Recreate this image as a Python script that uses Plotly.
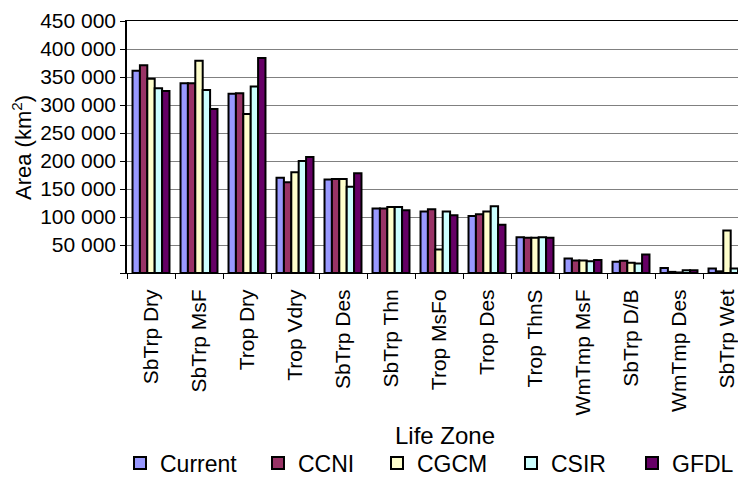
import plotly.graph_objects as go

zones = ["SbTrp Dry", "SbTrp MsF", "Trop Dry", "Trop Vdry", "SbTrp Des", "SbTrp Thn",
         "Trop MsFo", "Trop Des", "Trop ThnS", "WmTmp MsF", "SbTrp D/B", "WmTmp Des", "SbTrp Wet"]

current = [361000, 339000, 320000, 170000, 167000, 115000, 110000, 102000, 64000, 26000, 20000, 9000, 8000]
ccni    = [371000, 339000, 321000, 162000, 168000, 115000, 114000, 105000, 63000, 22500, 22000, 2000, 3000]
cgcm    = [347000, 379000, 284000, 180000, 168000, 118000, 42000, 110000, 63000, 22500, 18500, 1000, 76000]
csir    = [330000, 327000, 333000, 200000, 154000, 118000, 110000, 119000, 64000, 21000, 17000, 5000, 8000]
gfdl    = [325000, 293000, 384000, 207000, 178000, 112000, 103000, 86000, 63000, 23000, 33000, 5000, 3000]

series_names = ["Current", "CCNI", "CGCM", "CSIR", "GFDL"]
series_vals = [current, ccni, cgcm, csir, gfdl]
colors = ["#9999FF", "#993366", "#FFFFCC", "#CCFFFF", "#660066"]

y_ticks = [0, 50000, 100000, 150000, 200000, 250000, 300000, 350000, 400000, 450000]
y_text = ["" if v == 0 else f"{v:,}".replace(",", " ") for v in y_ticks]

FONT = "Liberation Sans, Arial, sans-serif"

# page body has an 8px default margin; figure is sized/placed to compensate
W, H = 738, 470
PL, PT, PB = 119, 13, 205
PW = W - PL          # plot width in px
PH = H - PT - PB     # plot height in px

def px(X):  # screen x -> paper x
    return (X - 8 - PL) / PW

def py(Y):  # screen y -> paper y
    return (H - PB - (Y - 8)) / PH

# screen x of each legend swatch (left edge) in the reference
legend_swatch_x = [135, 273, 392, 526, 647]

fig = go.Figure()
legend_ids = ["legend", "legend2", "legend3", "legend4", "legend5"]
for name, vals, col, lid in zip(series_names, series_vals, colors, legend_ids):
    fig.add_trace(go.Bar(
        x=zones, y=vals, name=name, legend=lid,
        marker=dict(color=col, line=dict(color="black", width=2)),
    ))

legend_layout = {}
for lid, sx in zip(legend_ids, legend_swatch_x):
    legend_layout[lid] = dict(
        orientation="h", xref="container", yref="container",
        x=(sx - 15 - 8) / W, xanchor="left", y=1 - (463 - 8) / H, yanchor="middle",
        font=dict(size=23, family=FONT, color="black"), itemwidth=30,
        bgcolor="rgba(0,0,0,0)",
    )

fig.update_layout(
    width=W, height=H,
    margin=dict(l=PL, r=0, t=PT, b=PB, autoexpand=False),
    paper_bgcolor="white", plot_bgcolor="white",
    barmode="group", bargap=0.23, bargroupgap=0,
    font=dict(family=FONT, color="black", size=18),
    showlegend=True,
    **legend_layout,
)

fig.update_xaxes(
    type="category", range=[-0.5, -0.5 + PW / 48.0], automargin=False,
    tickson="boundaries", ticks="outside", ticklen=5, tickcolor="black", tickwidth=1,
    tickangle=-90, tickfont=dict(size=21, family=FONT, color="black"),
    ticklabelstandoff=7,
    showline=True, linecolor="black", linewidth=1, mirror=True,
    showgrid=False,
)
fig.update_yaxes(
    range=[0, 450000], tickvals=y_ticks, ticktext=y_text, automargin=False,
    ticks="outside", ticklen=5, tickcolor="black", tickwidth=1,
    tickfont=dict(size=21, family=FONT, color="black"),
    showline=True, linecolor="black", linewidth=1.5,
    showgrid=True, gridcolor="#808080", gridwidth=1.2,
    zeroline=False,
)

fig.add_annotation(text="Life Zone", xref="paper", yref="paper",
                   x=px(445), y=py(435), xanchor="center", yanchor="middle",
                   showarrow=False, font=dict(size=24, family=FONT, color="black"))
fig.add_annotation(text="Area (km<sup>2</sup>)", xref="paper", yref="paper",
                   x=px(22), y=py(148), xanchor="center", yanchor="middle",
                   textangle=-90, showarrow=False, font=dict(size=22, family=FONT, color="black"))

fig.write_html("out.html")
